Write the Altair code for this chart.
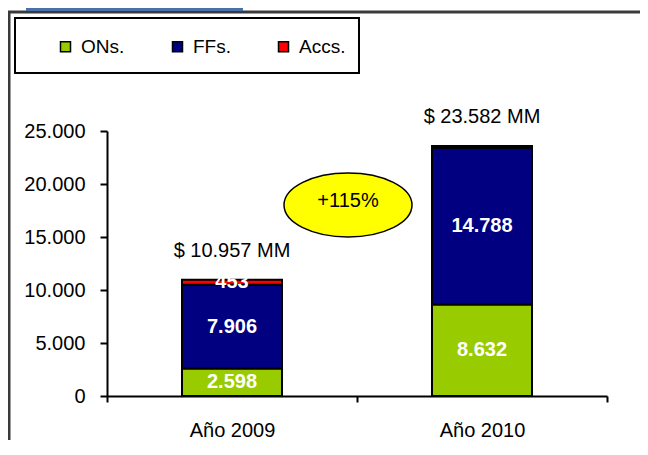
import altair as alt
import pandas as pd

years = ["Año 2009", "Año 2010"]
series = ["ONs.", "FFs.", "Accs."]
colors = ["#99CC00", "#000080", "#FF0000"]
ons = [2598, 8632]
ffs = [7906, 14788]
accs = [453, 162]
y_ticks = [0, 5000, 10000, 15000, 20000, 25000]

rows = []
for i, yr in enumerate(years):
    for k, (s, vals) in enumerate(zip(series, [ons, ffs, accs])):
        rows.append({"year": yr, "series": s, "value": vals[i], "idx": k})
df = pd.DataFrame(rows)

totals = [o + f + a for o, f, a in zip(ons, ffs, accs)]
growth = round((totals[1] / totals[0] - 1) * 100)
ann = pd.DataFrame({"txt": [f"+{growth}%"]})

FONT = "Liberation Sans"
W, H = 500, 265

base = alt.Chart(df)

xenc = alt.X("year:N", sort=years, title=None,
             scale=alt.Scale(paddingInner=0, paddingOuter=0),
             axis=alt.Axis(labelAngle=0, tickBand="extent", tickSize=6,
                           labelPadding=34, labelBaseline="alphabetic", zindex=2))
yscale = alt.Scale(domain=[0, 25000], nice=False)

bars = base.mark_bar(size=100, stroke="black", strokeWidth=2).encode(
    x=xenc,
    y=alt.Y("value:Q", stack="zero", scale=yscale, title=None,
            axis=alt.Axis(values=y_ticks, tickSize=7, labelPadding=15, zindex=2,
                          labelExpr="replace(format(datum.value, ','), ',', '.')")),
    color=alt.Color("series:N", scale=alt.Scale(domain=series, range=colors),
                    legend=alt.Legend(orient="none", legendX=-51, legendY=-94,
                                      direction="horizontal", title=None,
                                      symbolType="square", symbolSize=100,
                                      symbolStrokeColor="black", symbolStrokeWidth=1.5,
                                      labelFont=FONT, labelFontSize=19, labelColor="black",
                                      labelOffset=6, columnPadding=43, padding=0)),
    order=alt.Order("idx:Q"),
)

labels = base.transform_stack(
    stack="value", groupby=["year"], sort=[alt.SortField("idx")], as_=["y0", "y1"]
).transform_calculate(
    mid="(datum.y0 + datum.y1) / 2",
    lab="replace(format(datum.value, ','), ',', '.')"
).transform_filter("datum.value >= 400").mark_text(
    font=FONT, fontSize=20, fontWeight="bold", color="white", baseline="middle"
).encode(
    x=alt.X("year:N", sort=years),
    y=alt.Y("mid:Q", scale=yscale),
    text="lab:N",
)

tot = base.transform_aggregate(total="sum(value)", groupby=["year"]).transform_calculate(
    lab="'$ ' + replace(format(datum.total, ','), ',', '.') + ' MM'"
).mark_text(font=FONT, fontSize=20, color="black", baseline="alphabetic", dy=-23).encode(
    x=alt.X("year:N", sort=years),
    y=alt.Y("total:Q", scale=yscale),
    text="lab:N",
)

deco = alt.Chart(ann)
frame = deco.mark_rect(fill="transparent", stroke="#3a3a3a", strokeWidth=3).encode(
    x=alt.value(-98), x2=alt.value(560), y=alt.value(-119), y2=alt.value(400))
bluebar = deco.mark_rect(fill="#4A70A8").encode(
    x=alt.value(-81), x2=alt.value(136), y=alt.value(-123), y2=alt.value(-120))
legbox = deco.mark_rect(fill="white", stroke="black", strokeWidth=2).encode(
    x=alt.value(-92), x2=alt.value(252), y=alt.value(-113), y2=alt.value(-58))
ellipse = deco.mark_point(
    shape="M -1 0 A 1 0.5 0 1 0 1 0 A 1 0.5 0 1 0 -1 0 Z",
    size=16384, filled=True, fill="#FFFF00", stroke="black", strokeWidth=1.5, opacity=1
).encode(x=alt.value(241), y=alt.value(74))
pct = deco.mark_text(font=FONT, fontSize=20, color="black", baseline="middle").encode(
    x=alt.value(241), y=alt.value(70), text="txt:N")

chart = alt.layer(frame, bluebar, legbox, bars, labels, tot, ellipse, pct).properties(
    width=W, height=H,
    autosize=alt.AutoSizeParams(type="none"),
    padding={"left": 99, "top": 123, "right": 33, "bottom": 44},
    background="white",
).configure_view(stroke=None).configure_axis(
    labelFont=FONT, labelFontSize=20, labelColor="black",
    domainColor="black", domainWidth=2, tickColor="black", tickWidth=2, grid=False,
)

chart.save("out.html", embed_options={"renderer": "svg", "actions": False})
